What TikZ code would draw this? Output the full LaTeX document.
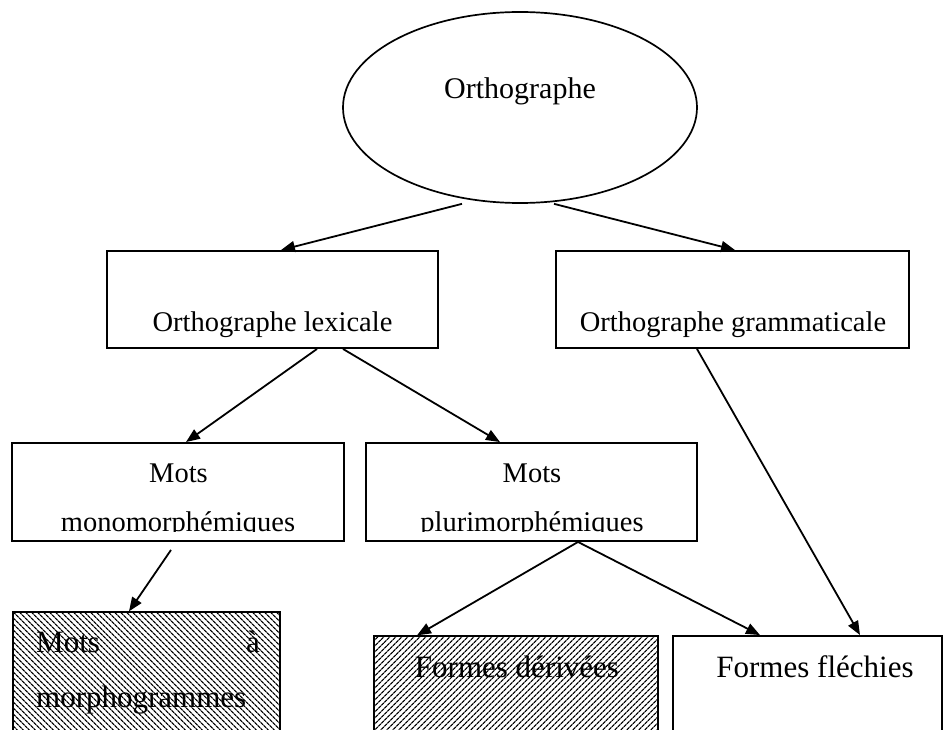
\documentclass[tikz,border=0pt]{standalone}
\usepackage{fontspec}
\setmainfont{Liberation Serif}
\usetikzlibrary{shapes.geometric,arrows.meta,patterns.meta}

\begin{document}
\begin{tikzpicture}[x=1pt,y=-1pt,
  box/.style={draw, rectangle, inner sep=0pt, line width=1.9pt},
  link/.style={-{Triangle[length=14pt,width=11pt]}, line width=1.8pt},
  lbl/.style={anchor=base, inner sep=0pt, font=\fontsize{28.5}{34}\selectfont},
  lblb/.style={lbl, font=\fontsize{31}{37}\selectfont},
  hatchA/.style={pattern={Lines[angle=-45,distance=4pt,line width=1.3pt]}},
  hatchB/.style={pattern={Lines[angle=45,distance=4pt,line width=1.3pt]}},
]
\useasboundingbox (0,0) rectangle (947,730);
\clip (0,0) rectangle (947,730);

% root
\node[draw, ellipse, line width=1.7pt, minimum width=354, minimum height=191] (ortho) at (520,107.5) {};
\node[lbl, font=\fontsize{30}{36}\selectfont] at (520,99) {Orthographe};

% second level
\node[box, minimum width=331, minimum height=97] (lex) at (272.5,299.5) {};
\node[box, minimum width=353, minimum height=97] (gram) at (732.5,299.5) {};
\node[lbl] at (272.5,331) {Orthographe lexicale};
\node[lbl] at (733,331) {Orthographe grammaticale};

% third level
\node[box, minimum width=332, minimum height=98] (mono) at (178,492) {};
\node[box, minimum width=331, minimum height=98] (pluri) at (531.5,492) {};
\node[lbl] at (178.5,482) {Mots};
\node[lbl] at (532,482) {Mots};
\begin{scope}
  \clip (0,443) rectangle (947,531);
  \node[lbl] at (178,531) {monomorphémiques};
  \node[lbl] at (532,531) {plurimorphémiques};
\end{scope}

% leaves
\node[box, hatchA, minimum width=267, minimum height=148] (morph) at (146.5,686) {};
\node[box, hatchB, minimum width=284, minimum height=124] (deriv) at (516,698) {};
\node[box, minimum width=269, minimum height=124] (flech) at (807.5,698) {};
\node[lblb, anchor=base west] at (36,652) {Mots};
\node[lblb, anchor=base east] at (260,652) {à};
\node[lblb, anchor=base west] at (36,707) {morphogrammes};
\node[lblb] at (517,677) {Formes dérivées};
\node[lblb] at (815,677) {Formes fléchies};

% connectors
\draw[link] ([shift={(-58,0)}]ortho.south) -- ([shift={(8.5,0)}]lex.north);
\draw[link] ([shift={(34,0)}]ortho.south) -- ([shift={(2.5,0)}]gram.north);
\draw[link] ([shift={(44.5,0)}]lex.south) -- ([shift={(8,0)}]mono.north);
\draw[link] ([shift={(70.5,0)}]lex.south) -- ([shift={(-31.5,0)}]pluri.north);
\draw[link] ([shift={(-7,8)}]mono.south) -- ([shift={(-17.5,0)}]morph.north);
\draw[link] ([shift={(46.5,0)}]pluri.south) -- ([shift={(-99,0)}]deriv.north);
\draw[link] ([shift={(46.5,0)}]pluri.south) -- ([shift={(-47.5,0)}]flech.north);
\draw[link] ([shift={(-35.5,0)}]gram.south) -- ([shift={(52.5,0)}]flech.north);
\end{tikzpicture}
\end{document}
